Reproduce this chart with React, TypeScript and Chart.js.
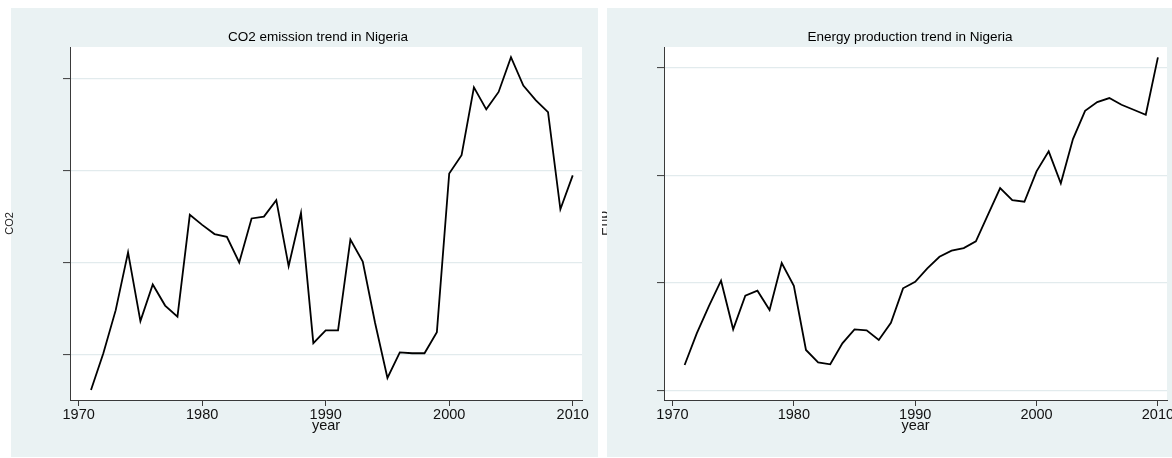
import React, { useEffect, useRef } from "react";
import { Chart, registerables } from "chart.js";

Chart.register(...registerables);

// ---------- data ----------
const years = [
  1971, 1972, 1973, 1974, 1975, 1976, 1977, 1978, 1979, 1980,
  1981, 1982, 1983, 1984, 1985, 1986, 1987, 1988, 1989, 1990,
  1991, 1992, 1993, 1994, 1995, 1996, 1997, 1998, 1999, 2000,
  2001, 2002, 2003, 2004, 2005, 2006, 2007, 2008, 2009, 2010,
];

const co2Values = [
  0.361, 0.401, 0.448, 0.511, 0.436, 0.476, 0.453, 0.441, 0.552, 0.541,
  0.531, 0.528, 0.5, 0.548, 0.55, 0.568, 0.496, 0.554, 0.412, 0.426,
  0.426, 0.525, 0.501, 0.434, 0.374, 0.402, 0.401, 0.401, 0.424, 0.597,
  0.617, 0.691, 0.667, 0.686, 0.724, 0.693, 0.677, 0.664, 0.558, 0.595,
];

const energyValues = [
  111930, 126650, 139320, 151070, 128500, 144100, 146430, 137470, 159290, 148750,
  118900, 113190, 112260, 122010, 128500, 128040, 123540, 131570, 147540, 150600,
  156820, 162210, 165000, 166250, 169360, 181710, 194100, 188530, 187740, 201860,
  211140, 196290, 216850, 229990, 234030, 235890, 232780, 230450, 228130, 254780,
];

const xTicks = [1970, 1980, 1990, 2000, 2010];
const co2Ticks = [0.4, 0.5, 0.6, 0.7];
const energyTicks = [100000, 150000, 200000, 250000];

const co2Title = "CO2 emission trend in Nigeria";
const energyTitle = "Energy production trend in Nigeria";
const co2AxisTitle = "CO2";
const energyAxisTitle = "Enp";
const xAxisTitle = "year";

// ---------- styles ----------
const FONT = "'Liberation Sans', Arial, Helvetica, sans-serif";
const PANEL_BG = "#eaf2f3";
const GRID = "#e2ebed";
const AXIS = "#3a3a3a";

const panelBg = {
  id: "panelBg",
  beforeDraw(chart: any, _args: any, o: any) {
    const { ctx, chartArea: a } = chart;
    ctx.save();
    ctx.fillStyle = o.color;
    ctx.fillRect(o.left, o.top, o.right - o.left, o.bottom - o.top);
    ctx.fillStyle = "#ffffff";
    ctx.fillRect(a.left, a.top, a.right - a.left, a.bottom - a.top);
    ctx.restore();
  },
  afterDraw(chart: any, _args: any, o: any) {
    if (!o.coverTo) return;
    const { ctx } = chart;
    ctx.save();
    ctx.fillStyle = o.color;
    ctx.fillRect(o.left, o.top, o.coverTo - o.left, o.bottom - o.top);
    ctx.restore();
  },
};

type PanelProps = {
  values: number[];
  yTicks: number[];
  yMin: number;
  yMax: number;
  title: string;
  yTitle: string;
  yTitleSize: number;
  yTitlePad: number;
  yWidth: number;
  rightGap: number;
  width: number;
  left: number;
  bgLeft: number;
  bgRight: number;
  coverTo?: number;
};

function buildConfig(p: PanelProps): any {
  return {
    type: "line",
    data: {
      datasets: [
        {
          data: years.map((yr, i) => ({ x: yr, y: p.values[i] })),
          borderColor: "#000000",
          borderWidth: 1.8,
          pointRadius: 0,
          tension: 0,
          fill: false,
        },
      ],
    },
    plugins: [panelBg],
    options: {
      animation: false,
      responsive: false,
      maintainAspectRatio: false,
      events: [],
      layout: { padding: 0 },
      plugins: {
        legend: { display: false },
        tooltip: { enabled: false },
        title: {
          display: true,
          text: p.title,
          color: "#000000",
          font: { family: FONT, size: 13.5, weight: "normal" },
          padding: { top: 29.5, bottom: 1.3 },
        },
        panelBg: {
          color: PANEL_BG,
          left: p.bgLeft,
          right: p.bgRight,
          top: 8,
          bottom: 457,
          coverTo: p.coverTo,
        },
      },
      scales: {
        x: {
          type: "linear",
          min: 1969.3,
          max: 2010.75,
          bounds: "data",
          afterBuildTicks: (s: any) => {
            s.ticks = xTicks.map((v) => ({ value: v }));
          },
          afterFit: (s: any) => {
            s.height = 58;
          },
          grid: {
            display: true,
            drawOnChartArea: false,
            drawTicks: true,
            tickLength: 6,
            tickColor: AXIS,
            tickWidth: 1,
          },
          border: { display: true, color: AXIS, width: 1 },
          ticks: {
            color: "#111111",
            font: { family: FONT, size: 14.5 },
            padding: 0,
            maxRotation: 0,
            autoSkip: false,
            callback: (v: any) => String(v),
          },
          title: {
            display: true,
            text: xAxisTitle,
            color: "#111111",
            font: { family: FONT, size: 14.5 },
            padding: { top: 0, bottom: 23 },
          },
        },
        y: {
          type: "linear",
          position: "left",
          min: p.yMin,
          max: p.yMax,
          bounds: "data",
          afterBuildTicks: (s: any) => {
            s.ticks = p.yTicks.map((v) => ({ value: v }));
          },
          afterFit: (s: any) => {
            s.width = p.yWidth;
          },
          grid: {
            color: GRID,
            lineWidth: 1.2,
            drawTicks: true,
            tickLength: 7,
            tickColor: AXIS,
            tickWidth: 1,
          },
          border: { display: true, color: AXIS, width: 1 },
          ticks: { display: false },
          title: {
            display: true,
            text: p.yTitle,
            color: "#222222",
            font: { family: FONT, size: p.yTitleSize },
            padding: { top: p.yTitlePad, bottom: 0 },
          },
        },
        yR: {
          type: "linear",
          position: "right",
          display: true,
          afterFit: (s: any) => {
            s.width = p.rightGap;
          },
          grid: { display: false, drawTicks: false },
          border: { display: false },
          ticks: { display: false },
        },
      },
    },
  };
}

function Panel(p: PanelProps) {
  const ref = useRef<HTMLCanvasElement | null>(null);
  useEffect(() => {
    if (!ref.current) return;
    const chart = new Chart(ref.current, buildConfig(p));
    return () => chart.destroy();
  }, []);
  return (
    <canvas
      ref={ref}
      width={p.width}
      height={458}
      style={{
        position: "absolute",
        left: p.left,
        top: 0,
        width: p.width,
        height: 458,
        display: "block",
      }}
    />
  );
}

export default function App() {
  return (
    <div
      style={{
        position: "absolute",
        left: 0,
        top: 0,
        width: 1172,
        height: 458,
        overflow: "hidden",
        background: "#ffffff",
      }}
    >
      <Panel
        values={co2Values}
        yTicks={co2Ticks}
        yMin={0.35}
        yMax={0.735}
        title={co2Title}
        yTitle={co2AxisTitle}
        yTitleSize={11}
        yTitlePad={3.7}
        yWidth={70}
        rightGap={54}
        width={636}
        left={0}
        bgLeft={11}
        bgRight={598}
      />
      <Panel
        values={energyValues}
        yTicks={energyTicks}
        yMin={95680}
        yMax={259610}
        title={energyTitle}
        yTitle={energyAxisTitle}
        yTitleSize={14}
        yTitlePad={-5.9}
        yWidth={62}
        rightGap={51}
        width={616}
        left={602}
        bgLeft={5}
        bgRight={616}
        coverTo={40}
      />
    </div>
  );
}
